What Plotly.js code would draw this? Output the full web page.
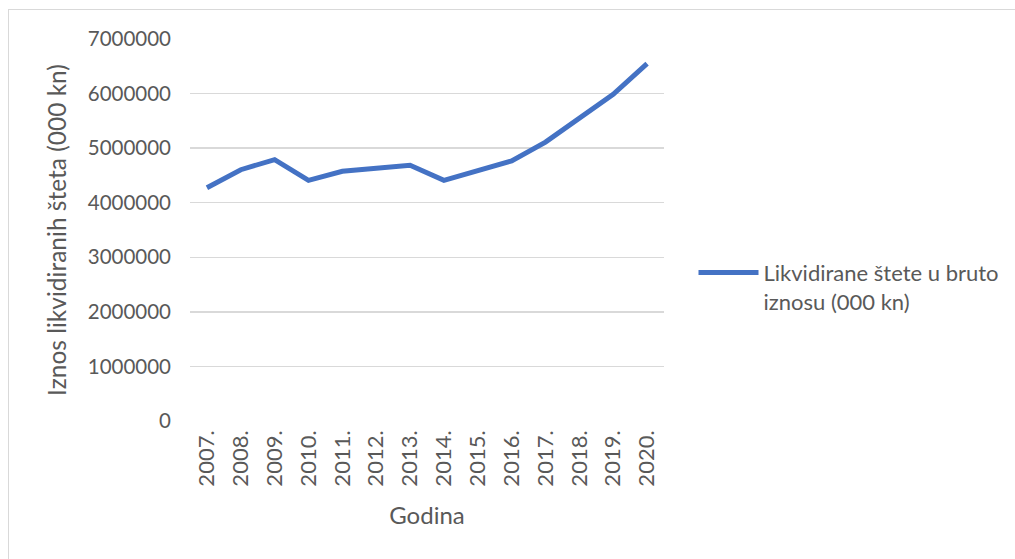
<!DOCTYPE html>
<html>
<head>
<meta charset="utf-8">
<script src="https://cdn.plot.ly/plotly-3.0.1.min.js"></script>
<style>
html,body{margin:0;padding:0;background:#fff;overflow:hidden;}
#frame{position:absolute;left:8px;top:9px;width:1015px;height:559px;border-left:1.5px solid #D9D9D9;border-top:1.5px solid #D9D9D9;}
#chart{position:absolute;left:0;top:0;width:1015px;height:559px;}
</style>
</head>
<body>
<div id="frame"></div>
<div id="chart"></div>
<script>
const years = ["2007.","2008.","2009.","2010.","2011.","2012.","2013.","2014.","2015.","2016.","2017.","2018.","2019.","2020."];
const claims = [4275000,4605000,4790000,4410000,4575000,4635000,4685000,4410000,4590000,4765000,5110000,5560000,5985000,6550000];
const seriesName = "Likvidirane štete u bruto<br>iznosu (000 kn)";
const yTicks = [0,1000000,2000000,3000000,4000000,5000000,6000000,7000000];

const txt = "#595959";
const fam = "Lato, 'Open Sans', sans-serif";

Plotly.newPlot("chart", [{
  x: years, y: claims, type: "scatter", mode: "lines", name: seriesName,
  line: {color: "#4472C4", width: 5}
}], {
  width: 1015, height: 559,
  paper_bgcolor: "rgba(0,0,0,0)", plot_bgcolor: "rgba(0,0,0,0)",
  margin: {l: 190, r: 350, t: 39, b: 138},
  font: {family: fam, color: txt},
  xaxis: {
    type: "category", range: [-0.5, 13.5], tickangle: -90, showgrid: false, zeroline: false,
    showline: false, ticks: "", ticklabelstandoff: 4, tickfont: {size: 22, color: txt, family: fam},
    title: {text: "Godina", font: {size: 24, color: txt, family: fam}, standoff: 21}
  },
  yaxis: {
    range: [0, 7000000], tickvals: yTicks, ticktext: yTicks.map(String),
    showgrid: true, gridcolor: "#D9D9D9", gridwidth: 1.5, zeroline: false,
    showline: false, ticks: "", ticklabelstandoff: 18,
    tickfont: {size: 20.5, color: txt, family: fam},
    title: {text: "Iznos likvidiranih šteta (000 kn)", font: {size: 24.5, color: txt, family: fam}, standoff: 14}
  },
  showlegend: true,
  legend: {x: 1.06, xanchor: "left", y: 0.35, yanchor: "middle", itemwidth: 60, valign: "top",
    font: {size: 22, color: txt, family: fam}, bgcolor: "rgba(0,0,0,0)"}
}, {displayModeBar: false, staticPlot: true});
</script>
</body>
</html>
